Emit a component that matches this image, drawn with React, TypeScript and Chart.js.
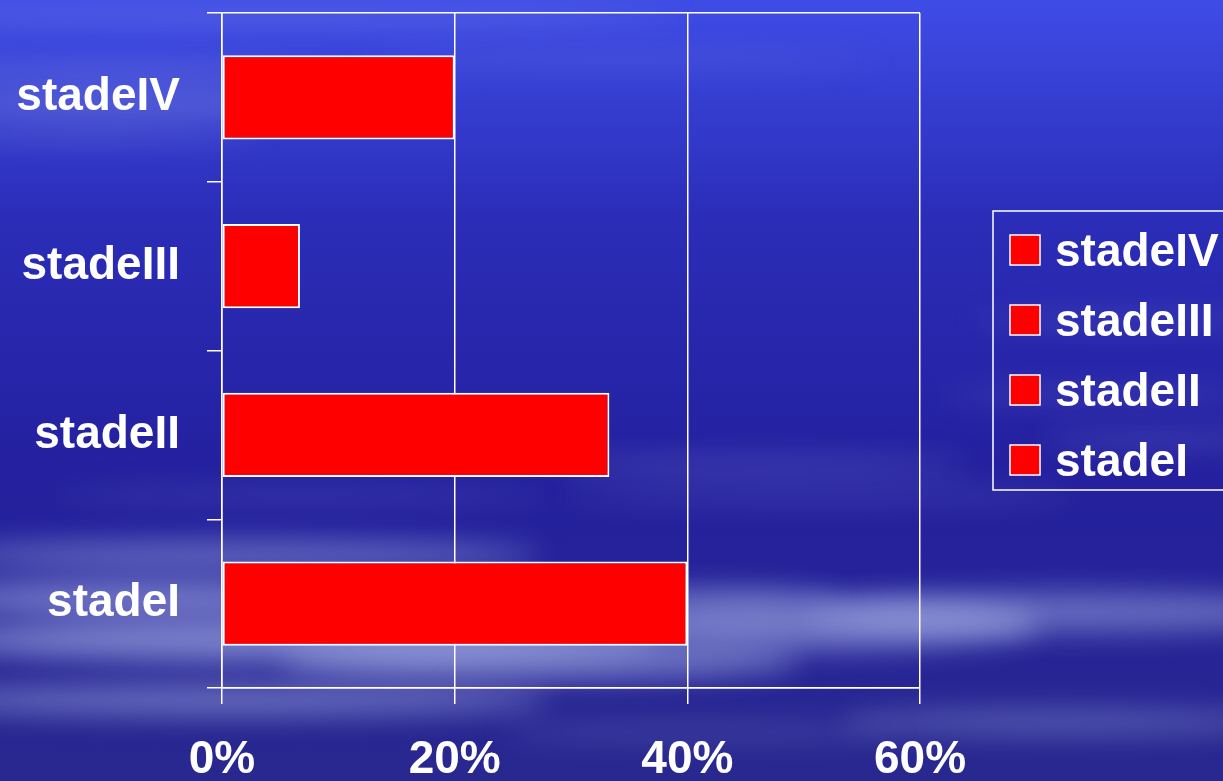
import React, { useEffect, useRef } from 'react';
import { Chart, registerables } from 'chart.js';

Chart.register(...registerables);

// ---- data ----
const categories = ['stadeI', 'stadeII', 'stadeIII', 'stadeIV'];
const percentValues = [40, 33.3, 6.7, 20];
const xTickValues = [0, 20, 40, 60];
const legendLabels = ['stadeIV', 'stadeIII', 'stadeII', 'stadeI'];

const FONT = '"Liberation Sans", Arial, Helvetica, sans-serif';
const BAR_RED = '#ff0000';
const WHITE = '#ffffff';

// background cloud streaks: cx, cy, rx, ry, alpha
const clouds: [number, number, number, number, number][] = [
  [260, 16, 420, 6, 0.3],
  [120, 72, 220, 5, 0.45],
  [130, 104, 240, 7, 0.5],
  [90, 134, 170, 5, 0.35],
  [620, 60, 260, 5, 0.2],
  [1120, 320, 150, 6, 0.18],
  [1100, 395, 160, 6, 0.2],
  [760, 465, 210, 7, 0.28],
  [820, 495, 260, 6, 0.22],
  [1160, 440, 120, 7, 0.22],
  [300, 495, 250, 6, 0.2],
  [240, 555, 300, 14, 0.45],
  [150, 598, 220, 18, 0.55],
  [300, 640, 360, 22, 0.6],
  [540, 660, 260, 20, 0.5],
  [820, 625, 220, 24, 0.55],
  [1070, 612, 260, 20, 0.45],
  [700, 600, 140, 12, 0.4],
  [230, 700, 320, 15, 0.48],
  [1060, 722, 220, 12, 0.34],
  [700, 732, 200, 8, 0.2],
];

const skyPlugin = {
  id: 'sky',
  beforeDraw(chart: any) {
    const { ctx, width, height } = chart;
    ctx.save();
    const g = ctx.createLinearGradient(0, 0, 0, height);
    g.addColorStop(0, '#3e4ce6');
    g.addColorStop(0.28, '#2b2db8');
    g.addColorStop(0.6, '#24209f');
    g.addColorStop(1, '#29288f');
    ctx.fillStyle = g;
    ctx.fillRect(0, 0, width, height);
    ctx.filter = 'blur(14px)';
    for (const [cx, cy, rx, ry, a] of clouds) {
      ctx.fillStyle = `rgba(180,192,238,${a})`;
      ctx.beginPath();
      ctx.ellipse(cx, cy, rx, ry, 0, 0, Math.PI * 2);
      ctx.fill();
    }
    ctx.restore();
  },
};

const legendPlugin = {
  id: 'boxLegend',
  afterDraw(chart: any) {
    const { ctx } = chart;
    const left = 993;
    const top = 211;
    const boxW = 260;
    const boxH = 279;
    ctx.save();
    ctx.strokeStyle = WHITE;
    ctx.lineWidth = 1.5;
    ctx.strokeRect(left, top, boxW, boxH);
    const color = chart.data.datasets[0].backgroundColor;
    ctx.font = `bold 46px ${FONT}`;
    ctx.textBaseline = 'middle';
    ctx.textAlign = 'left';
    legendLabels.forEach((lab, i) => {
      const cy = 250 + i * 70;
      ctx.fillStyle = color;
      ctx.fillRect(1010, cy - 15, 30, 30);
      ctx.strokeStyle = WHITE;
      ctx.lineWidth = 1.5;
      ctx.strokeRect(1010, cy - 15, 30, 30);
      ctx.fillStyle = WHITE;
      ctx.fillText(lab, 1055, cy + 3);
    });
    ctx.restore();
  },
};

export default function App() {
  const canvasRef = useRef<HTMLCanvasElement | null>(null);

  useEffect(() => {
    if (!canvasRef.current) return;
    const chart = new Chart(canvasRef.current, {
      type: 'bar',
      data: {
        labels: categories,
        datasets: [
          {
            label: 'stade',
            data: percentValues,
            backgroundColor: BAR_RED,
            borderColor: WHITE,
            borderWidth: 2,
            borderSkipped: false,
            barPercentage: 1,
            categoryPercentage: 0.5,
          },
        ],
      },
      options: {
        indexAxis: 'y',
        animation: false,
        responsive: true,
        maintainAspectRatio: false,
        layout: { padding: { top: 13, right: 303, left: 0, bottom: 0 } },
        plugins: {
          legend: { display: false },
          tooltip: { enabled: false },
        },
        scales: {
          x: {
            type: 'linear',
            min: 0,
            max: 60,
            afterBuildTicks: (scale: any) => {
              scale.ticks = xTickValues.map((v) => ({ value: v }));
            },
            afterFit: (scale: any) => {
              scale.height = 93;
              scale.paddingLeft = 0;
              scale.paddingRight = 0;
            },
            ticks: {
              color: WHITE,
              font: { family: FONT, size: 46, weight: 'bold' },
              padding: 29,
              maxRotation: 0,
              callback: (v: any) => `${v}%`,
            },
            grid: {
              color: WHITE,
              lineWidth: 1.5,
              tickLength: 16,
              tickColor: WHITE,
            },
            border: { color: WHITE, width: 1.5 },
          },
          y: {
            type: 'category',
            reverse: true,
            afterFit: (scale: any) => {
              scale.width = 222;
              scale.paddingTop = 0;
              scale.paddingBottom = 0;
            },
            ticks: {
              color: WHITE,
              font: { family: FONT, size: 46, weight: 'bold' },
              padding: 27,
            },
            grid: {
              color: (c: any) => (c.type !== 'tick' || c.index === 0 ? WHITE : 'rgba(0,0,0,0)'),
              lineWidth: 1.5,
              tickLength: 15,
              tickColor: WHITE,
            },
            border: { color: WHITE, width: 1.5 },
          },
        },
      },
      plugins: [skyPlugin, legendPlugin],
    } as any);
    return () => chart.destroy();
  }, []);

  return (
    <div style={{ position: 'fixed', left: 0, top: 0, width: 1223, height: 781, overflow: 'hidden' }}>
      <canvas ref={canvasRef} />
    </div>
  );
}
